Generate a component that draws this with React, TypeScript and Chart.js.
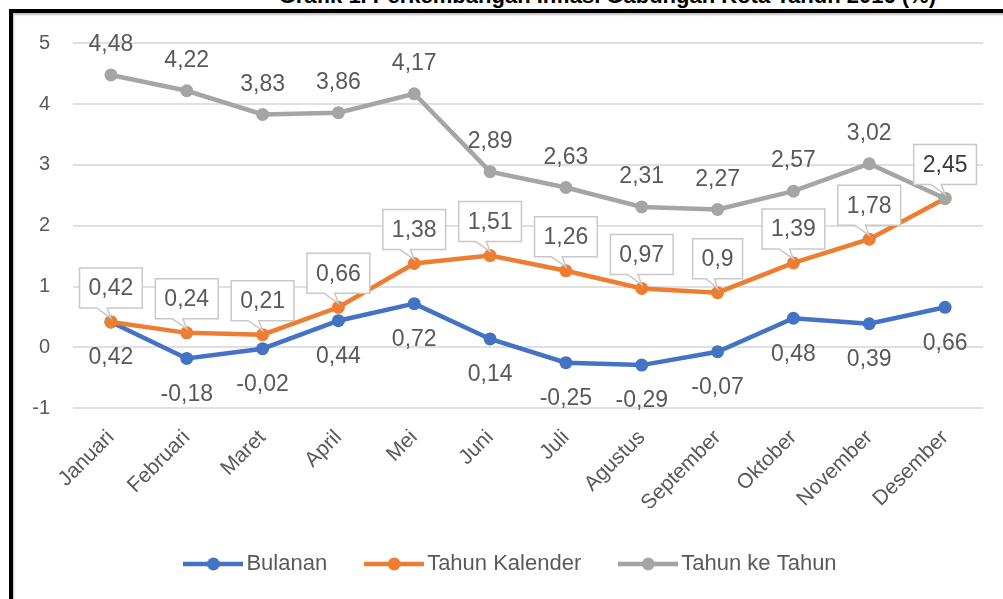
import React, { useEffect, useRef } from 'react';
import { Chart, registerables } from 'chart.js';

Chart.register(...registerables);

const months = ['Januari', 'Februari', 'Maret', 'April', 'Mei', 'Juni', 'Juli', 'Agustus', 'September', 'Oktober', 'November', 'Desember'];
const bulanan = [0.42, -0.18, -0.02, 0.44, 0.72, 0.14, -0.25, -0.29, -0.07, 0.48, 0.39, 0.66];
const tahunKalender = [0.42, 0.24, 0.21, 0.66, 1.38, 1.51, 1.26, 0.97, 0.9, 1.39, 1.78, 2.45];
const tahunKeTahun = [4.48, 4.22, 3.83, 3.86, 4.17, 2.89, 2.63, 2.31, 2.27, 2.57, 3.02, 2.45];
const seriesNames = ['Bulanan', 'Tahun Kalender', 'Tahun ke Tahun'];
const seriesColors = ['#4472C4', '#ED7D31', '#A5A5A5'];
const yMin = -1;
const yMax = 5;
const yStep = 1;
const titleText = 'Grafik 1. Perkembangan Inflasi Gabungan Kota Tahun 2016 (%)';

const FONT = "'Liberation Sans', Arial, sans-serif";
const TEXT = '#595959';
const fmt = (v: number) => String(v).replace('.', ',');

function makeSwatch(color: string) {
  const c = document.createElement('canvas');
  c.width = 60;
  c.height = 14;
  const g = c.getContext('2d')!;
  g.strokeStyle = color;
  g.lineWidth = 4.5;
  g.beginPath();
  g.moveTo(0, 7);
  g.lineTo(60, 7);
  g.stroke();
  g.fillStyle = color;
  g.beginPath();
  g.arc(30, 7, 6.5, 0, Math.PI * 2);
  g.fill();
  return c;
}

const legendShiftPlugin = {
  id: 'legendShift',
  afterLayout(chart: any) {
    const lg = chart.legend;
    if (lg) {
      lg.left += 16;
      lg.right += 16;
    }
  },
};

const labelPlugin = {
  id: 'valueLabels',
  afterDatasetsDraw(chart: any) {
    const ctx = chart.ctx as CanvasRenderingContext2D;
    const metaB = chart.getDatasetMeta(0);
    const metaK = chart.getDatasetMeta(1);
    const metaT = chart.getDatasetMeta(2);
    ctx.save();
    ctx.font = `23px ${FONT}`;
    ctx.textAlign = 'center';
    ctx.textBaseline = 'middle';
    ctx.fillStyle = TEXT;
    metaB.data.forEach((pt: any, i: number) => {
      ctx.fillText(fmt(bulanan[i]), pt.x, pt.y + 36);
    });
    metaT.data.forEach((pt: any, i: number) => {
      if (tahunKeTahun[i] === tahunKalender[i]) return;
      ctx.fillText(fmt(tahunKeTahun[i]), pt.x, pt.y - 30);
    });
    metaK.data.forEach((pt: any, i: number) => {
      const text = fmt(tahunKalender[i]);
      const tw = ctx.measureText(text).width;
      const w = tw + 18;
      const h = 40;
      const left = pt.x - w / 2;
      const bottom = pt.y - 14;
      const top = bottom - h;
      const b1 = left + w * 0.27;
      const b2 = left + w * 0.44;
      ctx.beginPath();
      ctx.moveTo(left, top);
      ctx.lineTo(left + w, top);
      ctx.lineTo(left + w, bottom);
      ctx.lineTo(b2, bottom);
      ctx.lineTo(pt.x, pt.y - 4);
      ctx.lineTo(b1, bottom);
      ctx.lineTo(left, bottom);
      ctx.closePath();
      ctx.fillStyle = '#ffffff';
      ctx.fill();
      ctx.strokeStyle = '#c8c8c8';
      ctx.lineWidth = 1.5;
      ctx.stroke();
      ctx.fillStyle = tahunKeTahun[i] === tahunKalender[i] ? '#3a3a3a' : TEXT;
      ctx.fillText(text, pt.x, top + h / 2 + 1);
    });
    ctx.restore();
  },
};

export default function App() {
  const ref = useRef<HTMLCanvasElement | null>(null);

  useEffect(() => {
    if (!ref.current) return;
    const swatches = seriesColors.map(makeSwatch);
    const seriesData = [bulanan, tahunKalender, tahunKeTahun];
    const chart = new Chart(ref.current, {
      type: 'line',
      data: {
        labels: months,
        datasets: seriesData.map((d, i) => ({
          label: seriesNames[i],
          data: d,
          borderColor: seriesColors[i],
          backgroundColor: seriesColors[i],
          pointBackgroundColor: seriesColors[i],
          pointBorderColor: seriesColors[i],
          pointBorderWidth: 0,
          pointRadius: 6.5,
          borderWidth: 4.5,
          tension: 0,
          order: 3 - i,
        })),
      },
      options: {
        animation: false,
        responsive: false,
        devicePixelRatio: 1,
        layout: { padding: { left: 0, right: 20, top: 30.3, bottom: 14 } },
        plugins: {
          tooltip: { enabled: false },
          legend: {
            position: 'bottom',
            labels: {
              usePointStyle: true,
              pointStyleWidth: 44,
              padding: 45,
              color: TEXT,
              font: { size: 22, family: FONT },
              generateLabels: (c: any) =>
                c.data.datasets.map((ds: any, i: number) => ({
                  text: ds.label,
                  pointStyle: swatches[i],
                  fillStyle: seriesColors[i],
                  strokeStyle: seriesColors[i],
                  lineWidth: 0,
                  hidden: false,
                  datasetIndex: i,
                  fontColor: TEXT,
                })),
            },
          },
        },
        scales: {
          x: {
            offset: true,
            grid: { display: false, drawTicks: false, offset: true },
            border: { display: false },
            ticks: {
              autoSkip: false,
              minRotation: 45,
              maxRotation: 45,
              padding: 17,
              color: TEXT,
              font: { size: 21, family: FONT },
            },
            afterFit: (s: any) => {
              s.height = 99.7;
            },
          },
          y: {
            min: yMin,
            max: yMax,
            grid: { color: '#e0e0e0', lineWidth: 2, drawTicks: false },
            border: { display: false },
            ticks: {
              stepSize: yStep,
              padding: 23,
              color: TEXT,
              font: { size: 20, family: FONT },
              callback: (v: any) => String(v),
            },
            afterFit: (s: any) => {
              s.width = 60;
              s.paddingTop = 0;
              s.paddingBottom = 0;
            },
          },
        },
      },
      plugins: [labelPlugin, legendShiftPlugin],
    } as any);
    return () => chart.destroy();
  }, []);

  return (
    <div style={{ position: 'fixed', left: 0, top: 0, width: 1003, height: 599, background: '#ffffff', overflow: 'hidden' }}>
      <div style={{ position: 'absolute', left: 0, top: 0, width: 1003, height: 9, overflow: 'hidden' }}>
        <span
          style={{
            position: 'absolute',
            right: 67,
            top: -17,
            whiteSpace: 'nowrap',
            font: `bold 22px ${FONT}`,
            lineHeight: '26px',
            color: '#000',
          }}
        >
          {titleText}
        </span>
      </div>
      <div
        style={{
          position: 'absolute',
          left: 9,
          top: 9,
          width: 1003,
          height: 599,
          borderTop: '4px solid #000',
          borderLeft: '4px solid #000',
          boxShadow: 'inset 1px 2px 2px rgba(0,0,0,0.25)',
        }}
      />
      <canvas ref={ref} width={990} height={586} style={{ position: 'absolute', left: 13, top: 13, width: 990, height: 586 }} />
    </div>
  );
}
